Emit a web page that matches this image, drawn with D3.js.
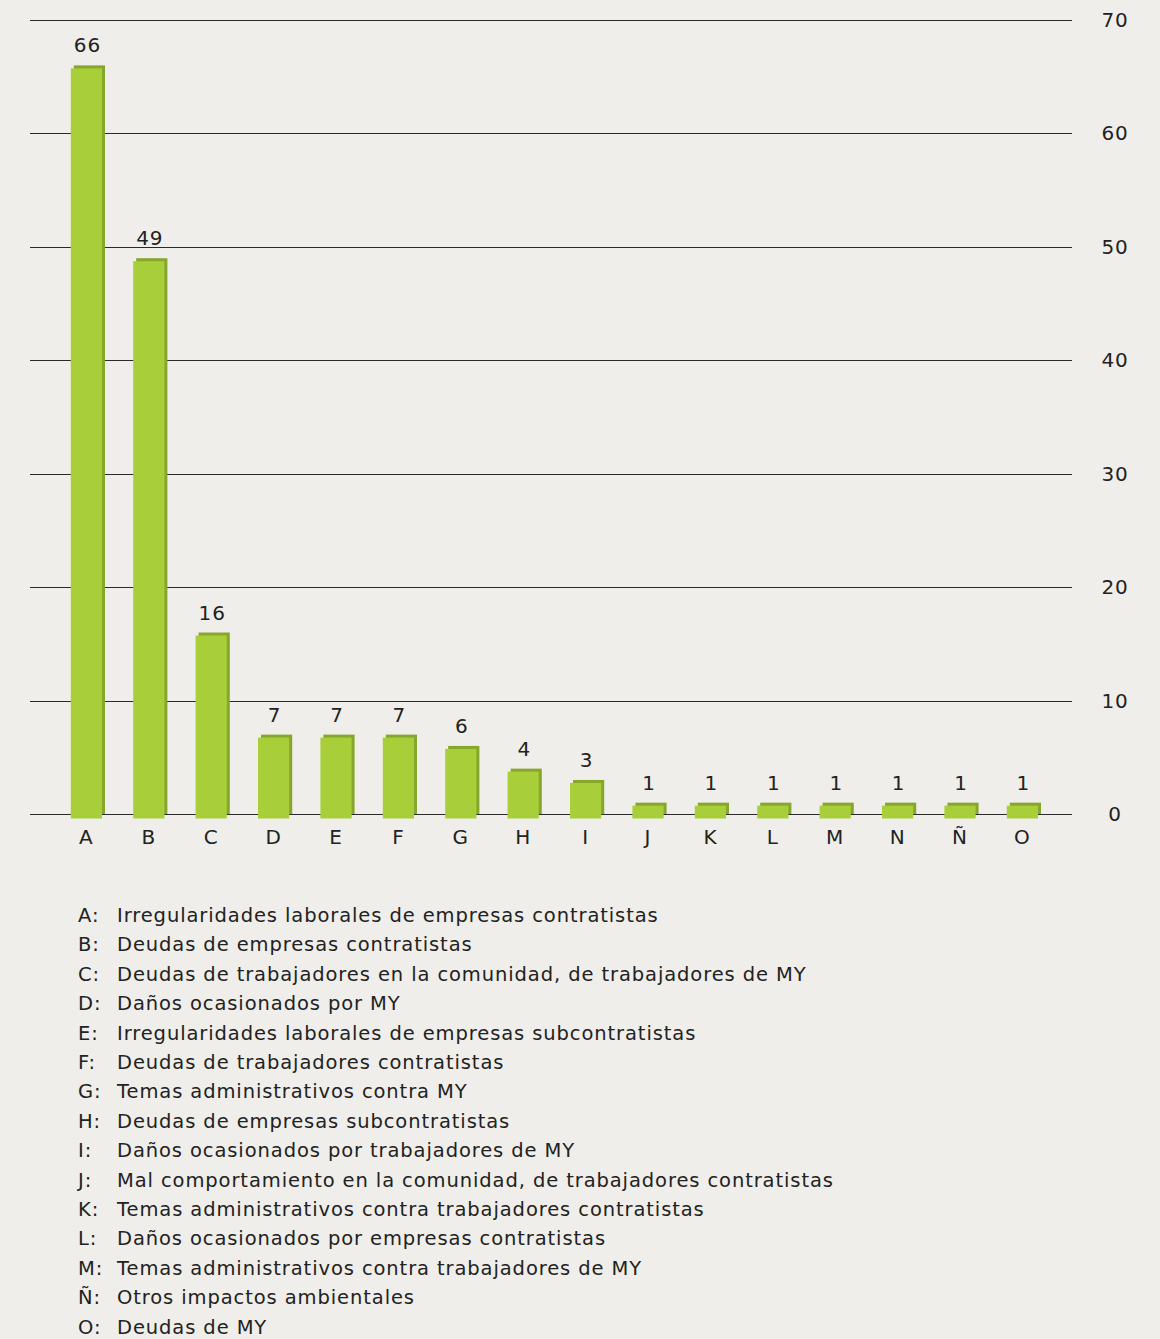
<!DOCTYPE html>
<html>
<head>
<meta charset="utf-8">
<script src="https://cdn.jsdelivr.net/npm/d3@7"></script>
<style>
  body { margin: 0; background: #efeeea; }
  svg { display: block; font-family: "DejaVu Sans", sans-serif; }
  text { fill: #222; letter-spacing: 0.9px; }
</style>
</head>
<body>
<svg id="chart" width="1160" height="1339"></svg>
<script>
const categories = ['A', 'B', 'C', 'D', 'E', 'F', 'G', 'H', 'I', 'J', 'K', 'L', 'M', 'N', 'Ñ', 'O'];
const values = [66, 49, 16, 7, 7, 7, 6, 4, 3, 1, 1, 1, 1, 1, 1, 1];
const yTicks = [0, 10, 20, 30, 40, 50, 60, 70];
const legendKeys = ['A', 'B', 'C', 'D', 'E', 'F', 'G', 'H', 'I', 'J', 'K', 'L', 'M', 'Ñ', 'O'];
const legendTexts = [
  'Irregularidades laborales de empresas contratistas',
  'Deudas de empresas contratistas',
  'Deudas de trabajadores en la comunidad, de trabajadores de MY',
  'Daños ocasionados por MY',
  'Irregularidades laborales de empresas subcontratistas',
  'Deudas de trabajadores contratistas',
  'Temas administrativos contra MY',
  'Deudas de empresas subcontratistas',
  'Daños ocasionados por trabajadores de MY',
  'Mal comportamiento en la comunidad, de trabajadores contratistas',
  'Temas administrativos contra trabajadores contratistas',
  'Daños ocasionados por empresas contratistas',
  'Temas administrativos contra trabajadores de MY',
  'Otros impactos ambientales',
  'Deudas de MY'
];

const data = categories.map((c, i) => ({cat: c, value: values[i]}));

const svg = d3.select('#chart');
const gridL = 30, gridR = 1072;

const x = d3.scaleBand().domain(categories)
  .range([55.2, 1053.6]).paddingInner(0.5).paddingOuter(0.25);
const y = d3.scaleLinear().domain([0, 70]).range([814, 20]);

// gridlines + right labels
const yAxis = d3.axisRight(y).tickValues(yTicks)
  .tickSize(-(gridR - gridL)).tickPadding(0).tickFormat(d3.format('d'));
const ga = svg.append('g').attr('transform', `translate(${gridR},0)`).call(yAxis);
ga.select('.domain').remove();
ga.selectAll('.tick').attr('transform', d => `translate(0,${Math.round(y(d)) + 0.5})`);
ga.selectAll('.tick line').attr('stroke', '#2a2a2a').attr('stroke-width', 1);
ga.selectAll('.tick text')
  .attr('x', 43).attr('text-anchor', 'middle')
  .attr('font-size', 20).attr('fill', '#222')
  .style('font-family', '"DejaVu Sans", sans-serif');

// bars
const bars = svg.append('g').selectAll('g').data(data).join('g');
bars.append('rect')
  .attr('x', d => x(d.cat) + 3)
  .attr('y', d => y(d.value))
  .attr('width', x.bandwidth())
  .attr('height', d => y(0) - y(d.value))
  .attr('fill', '#86a72c');
bars.append('rect')
  .attr('x', d => x(d.cat))
  .attr('y', d => y(d.value) + 3)
  .attr('width', x.bandwidth())
  .attr('height', d => y(0) - y(d.value) + 1.5)
  .attr('fill', '#a8cf3a');

// value labels
bars.append('text')
  .attr('x', d => x(d.cat) + x.bandwidth() / 2 + 1)
  .attr('y', d => y(d.value) - 13)
  .attr('text-anchor', 'middle')
  .attr('font-size', 20)
  .text(d => d.value);

// category labels
const xAxis = d3.axisBottom(x).tickSize(0).tickPadding(0);
const gx = svg.append('g').attr('transform', 'translate(0,844)').call(xAxis);
gx.select('.domain').remove();
gx.selectAll('.tick text')
  .attr('dy', 0).attr('font-size', 20).attr('fill', '#222')
  .style('font-family', '"DejaVu Sans", sans-serif');

// legend
const legend = svg.append('g').selectAll('g').data(legendKeys).join('g')
  .attr('transform', (d, i) => `translate(0,${922 + i * 29.4})`);
legend.append('text').attr('x', 78).attr('font-size', 19.5).text(d => d + ':');
legend.append('text').attr('x', 117).attr('font-size', 19.5).text((d, i) => legendTexts[i]);
</script>
</body>
</html>
